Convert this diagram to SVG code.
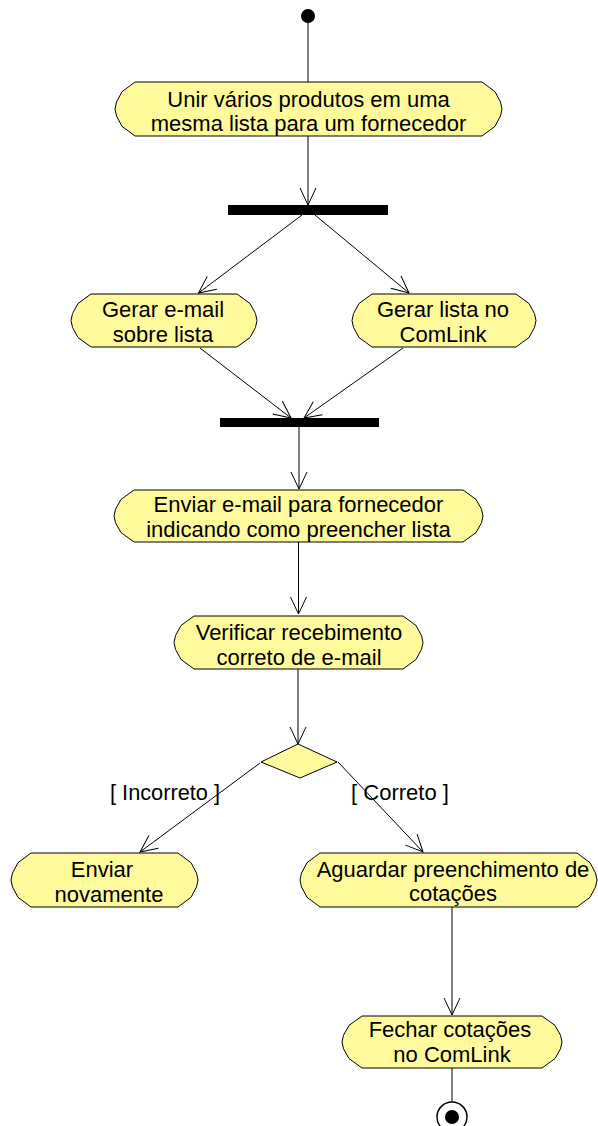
<svg xmlns="http://www.w3.org/2000/svg" width="598" height="1126" viewBox="0 0 598 1126">
  <style>
    .act { fill: #FFFA9C; stroke: #000; stroke-width: 1; }
    .lbl { font-family: "Liberation Sans", Arial, sans-serif; font-size: 22px; fill: #000; text-anchor: middle; }
    .bar { fill: #000; }
    .flow { fill: none; stroke: #000; stroke-width: 1; }
  </style>
  <defs>
    <marker id="open-arrow" markerUnits="userSpaceOnUse" markerWidth="20" markerHeight="20" viewBox="-18 -10 20 20" refX="0" refY="0" orient="auto">
      <path d="M-17,-8 L0,0 L-17,8" fill="none" stroke="#000" stroke-width="1"/>
    </marker>
  </defs>

  <rect width="598" height="1126" fill="#fff"/>

  <!-- connectors -->
  <g id="connectors" class="flow">
    <line x1="308" y1="16" x2="308" y2="82"/>
    <line x1="308" y1="136" x2="308" y2="205" marker-end="url(#open-arrow)"/>
    <line x1="302" y1="215" x2="198.5" y2="293" marker-end="url(#open-arrow)"/>
    <line x1="315" y1="215" x2="409" y2="293" marker-end="url(#open-arrow)"/>
    <line x1="200" y1="348" x2="291" y2="418" marker-end="url(#open-arrow)"/>
    <line x1="403" y1="348" x2="304" y2="418" marker-end="url(#open-arrow)"/>
    <line x1="299" y1="427" x2="299" y2="489" marker-end="url(#open-arrow)"/>
    <line x1="298.5" y1="542" x2="298.5" y2="614" marker-end="url(#open-arrow)"/>
    <line x1="298" y1="669" x2="298" y2="744" marker-end="url(#open-arrow)"/>
    <line x1="260" y1="763" x2="140" y2="852" marker-end="url(#open-arrow)"/>
    <line x1="338" y1="762" x2="423" y2="852" marker-end="url(#open-arrow)"/>
    <line x1="452" y1="907" x2="452" y2="1015" marker-end="url(#open-arrow)"/>
    <line x1="452" y1="1068" x2="452" y2="1102"/>
  </g>

  <!-- initial state -->
  <g id="start">
    <circle cx="308" cy="16" r="7" fill="#000"/>
  </g>

  <g id="unir-produtos">
    <path class="act" d="M135,82 H482 L495,91.7 L500.5,102 L502,109 L500.5,116 L495,126.3 L482,136 H135 L122,126.3 L116.5,116 L115,109 L116.5,102 L122,91.7 Z"/>
    <text class="lbl" x="308.5" y="107">Unir vários produtos em uma</text>
    <text class="lbl" x="308.5" y="131">mesma lista para um fornecedor</text>
  </g>

  <g id="fork">
    <rect class="bar" x="228" y="205" width="160" height="10"/>
  </g>

  <g id="gerar-email">
    <path class="act" d="M91,294 H237 L250,303.5 L255.5,313.6 L257,320.5 L255.5,327.4 L250,337.5 L237,347 H91 L78,337.5 L72.5,327.4 L71,320.5 L72.5,313.6 L78,303.5 Z"/>
    <text class="lbl" x="163" y="317">Gerar e-mail</text>
    <text class="lbl" x="163" y="342">sobre lista</text>
  </g>

  <g id="gerar-lista">
    <path class="act" d="M372,294 H516 L529,303.5 L534.5,313.6 L536,320.5 L534.5,327.4 L529,337.5 L516,347 H372 L359,337.5 L353.5,327.4 L352,320.5 L353.5,313.6 L359,303.5 Z"/>
    <text class="lbl" x="443" y="317">Gerar lista no</text>
    <text class="lbl" x="443" y="342">ComLink</text>
  </g>

  <g id="join">
    <rect class="bar" x="220" y="418" width="159" height="9"/>
  </g>

  <g id="enviar-email">
    <path class="act" d="M134,490 H463 L476,499.4 L481.5,509.2 L483,516 L481.5,522.8 L476,532.6 L463,542 H134 L121,532.6 L115.5,522.8 L114,516 L115.5,509.2 L121,499.4 Z"/>
    <text class="lbl" x="298.5" y="512">Enviar e-mail para fornecedor</text>
    <text class="lbl" x="298.5" y="537">indicando como preencher lista</text>
  </g>

  <g id="verificar">
    <path class="act" d="M194,616 H403 L416,625.5 L421.5,635.6 L423,642.5 L421.5,649.4 L416,659.5 L403,669 H194 L181,659.5 L175.5,649.4 L174,642.5 L175.5,635.6 L181,625.5 Z"/>
    <text class="lbl" x="299" y="639.5">Verificar recebimento</text>
    <text class="lbl" x="299" y="664.5">correto de e-mail</text>
  </g>

  <g id="decisao">
    <polygon class="act" points="298,744 337,762 300,778 261,762"/>
  </g>

  <!-- guard labels -->
  <g id="guards">
    <text class="lbl" x="165" y="800" textLength="110" lengthAdjust="spacingAndGlyphs">[ Incorreto ]</text>
    <text class="lbl" x="400" y="800">[ Correto ]</text>
  </g>

  <g id="enviar-novamente">
    <path class="act" d="M31,853 H178 L191,862.7 L196.5,873 L198,880 L196.5,887 L191,897.3 L178,907 H31 L18,897.3 L12.5,887 L11,880 L12.5,873 L18,862.7 Z"/>
    <text class="lbl" x="102" y="877">Enviar</text>
    <text class="lbl" x="109" y="902">novamente</text>
  </g>

  <g id="aguardar">
    <path class="act" d="M320,853 H577 L590,862.7 L595.5,873 L597,880 L595.5,887 L590,897.3 L577,907 H320 L307,897.3 L301.5,887 L300,880 L301.5,873 L307,862.7 Z"/>
    <text class="lbl" x="453" y="877">Aguardar preenchimento de</text>
    <text class="lbl" x="453" y="901">cotações</text>
  </g>

  <g id="fechar">
    <path class="act" d="M362,1016 H542 L555,1025.4 L560.5,1035.2 L562,1042 L560.5,1048.8 L555,1058.6 L542,1068 H362 L349,1058.6 L343.5,1048.8 L342,1042 L343.5,1035.2 L349,1025.4 Z"/>
    <text class="lbl" x="450" y="1037">Fechar cotações</text>
    <text class="lbl" x="452" y="1062">no ComLink</text>
  </g>

  <!-- final state -->
  <g id="end">
    <circle cx="452" cy="1117" r="15" fill="#fff" stroke="#000" stroke-width="1.5"/>
    <circle cx="452" cy="1117" r="7" fill="#000"/>
  </g>
</svg>
